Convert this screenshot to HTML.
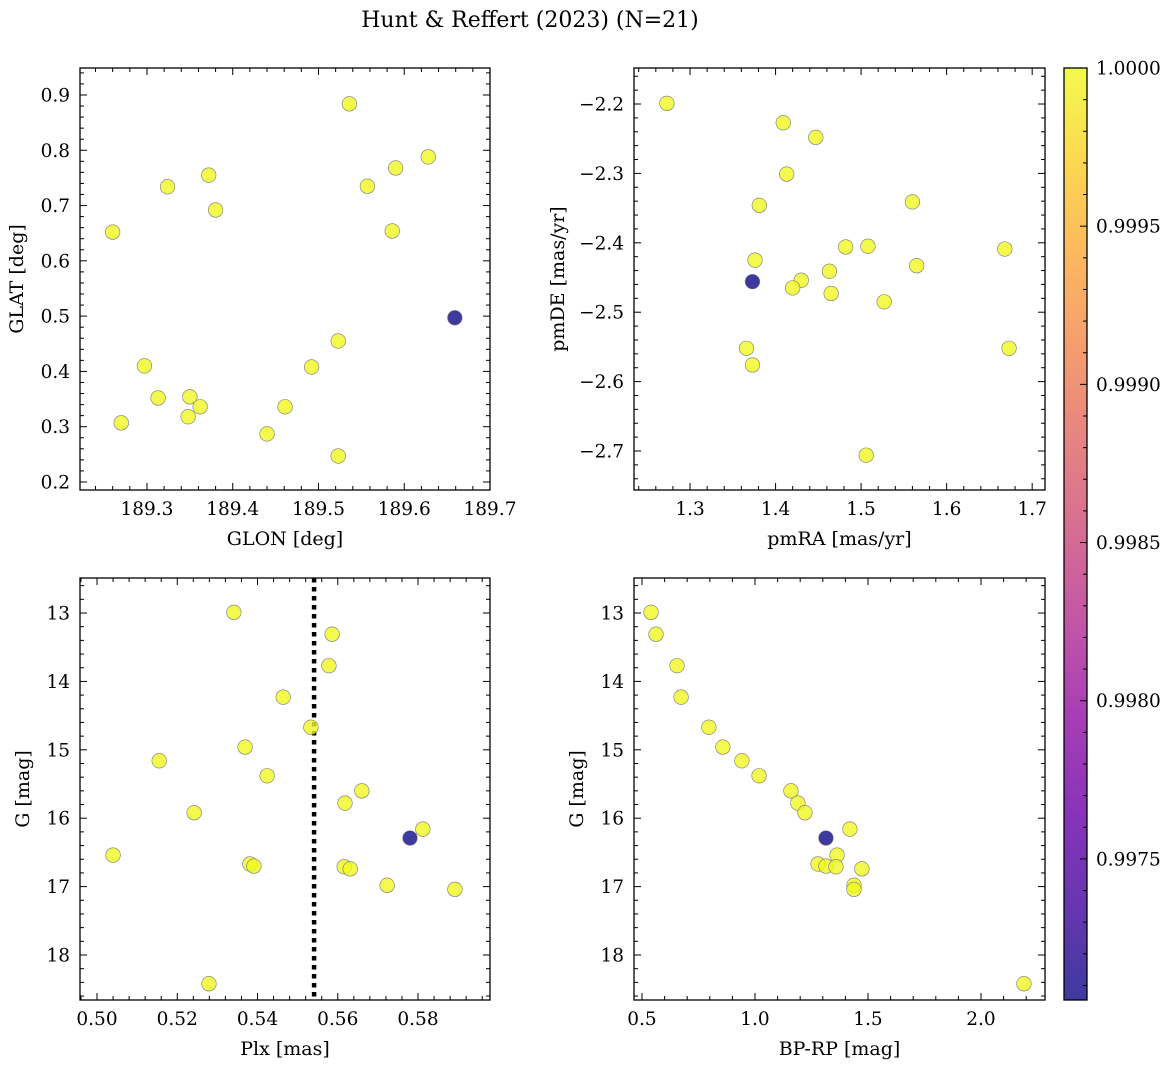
<!DOCTYPE html>
<html><head><meta charset="utf-8"><style>
body{margin:0;background:#fff}
svg text{font-family:"DejaVu Serif","Liberation Serif",serif;fill:#000}
</style></head><body>
<svg id="fig" width="1173" height="1068" xmlns="http://www.w3.org/2000/svg">
<defs>
<linearGradient id="plasma" x1="0" y1="1" x2="0" y2="0">
<stop offset="0" stop-color="#0d0887"/><stop offset="0.1" stop-color="#41049d"/><stop offset="0.2" stop-color="#6a00a8"/><stop offset="0.3" stop-color="#8f0da4"/><stop offset="0.4" stop-color="#b12a90"/><stop offset="0.5" stop-color="#cc4778"/><stop offset="0.6" stop-color="#e16462"/><stop offset="0.7" stop-color="#f2844b"/><stop offset="0.8" stop-color="#fca636"/><stop offset="0.9" stop-color="#fcce25"/><stop offset="1" stop-color="#f0f921"/>
</linearGradient>
</defs>
<text x="530" y="27" font-size="22" text-anchor="middle">Hunt &amp; Reffert (2023) (N=21)</text>
</svg>
<script>
const glon=[189.260,189.270,189.297,189.313,189.324,189.348,189.350,189.362,189.372,189.380,189.440,189.461,189.492,189.523,189.523,189.536,189.557,189.586,189.590,189.628,189.659];
const glat=[0.652,0.307,0.410,0.352,0.734,0.318,0.354,0.336,0.755,0.692,0.287,0.336,0.408,0.455,0.247,0.884,0.735,0.654,0.768,0.788,0.497];
const prob1=[1,1,1,1,1,1,1,1,1,1,1,1,1,1,1,1,1,1,1,1,0.99706];
const pmra=[1.273,1.409,1.447,1.413,1.381,1.560,1.508,1.482,1.668,1.565,1.376,1.373,1.463,1.430,1.420,1.465,1.527,1.366,1.373,1.673,1.506];
const pmde=[-2.199,-2.227,-2.248,-2.301,-2.346,-2.341,-2.405,-2.406,-2.409,-2.433,-2.425,-2.456,-2.441,-2.454,-2.465,-2.473,-2.485,-2.552,-2.576,-2.552,-2.706];
const prob2=[1,1,1,1,1,1,1,1,1,1,1,0.99706,1,1,1,1,1,1,1,1,1];
const plx=[0.5341,0.5586,0.5578,0.5464,0.5533,0.5369,0.5155,0.5424,0.5660,0.5618,0.5242,0.5812,0.5780,0.5040,0.5381,0.5391,0.5616,0.5631,0.5723,0.5892,0.5279];
const gmag=[12.99,13.31,13.77,14.23,14.67,14.96,15.16,15.38,15.60,15.78,15.92,16.16,16.29,16.54,16.67,16.70,16.71,16.74,16.98,17.04,18.42];
const prob3=[1,1,1,1,1,1,1,1,1,1,1,1,0.99706,1,1,1,1,1,1,1,1];
const bprp=[0.540,0.562,0.655,0.673,0.796,0.858,0.942,1.018,1.159,1.190,1.221,1.420,1.314,1.363,1.279,1.314,1.358,1.473,1.438,1.438,2.190];
const gmag4=[12.99,13.31,13.77,14.23,14.67,14.96,15.16,15.38,15.60,15.78,15.92,16.16,16.29,16.54,16.67,16.70,16.71,16.74,16.98,17.04,18.42];
const prob4=[1,1,1,1,1,1,1,1,1,1,1,1,0.99706,1,1,1,1,1,1,1,1];
const plxLine=0.5541;
const cbTicks=[0.9975,0.9980,0.9985,0.9990,0.9995,1.0000];

const NS="http://www.w3.org/2000/svg";
const fig=document.getElementById('fig');
function mk(t,a,p){const e=document.createElementNS(NS,t);for(const k in a)e.setAttribute(k,a[k]);(p||fig).appendChild(e);return e;}
const stops=[[0,[13,8,135]],[0.1,[65,4,157]],[0.2,[106,0,168]],[0.3,[143,13,164]],[0.4,[177,42,144]],[0.5,[204,71,120]],[0.6,[225,100,98]],[0.7,[242,132,75]],[0.8,[252,166,54]],[0.9,[252,206,37]],[1,[240,249,33]]];
const cmin=0.997054,cmax=1.0;
function cmap(v){let t=Math.max(0,Math.min(1,(v-cmin)/(cmax-cmin)));for(let i=1;i<stops.length;i++){if(t<=stops[i][0]){const a=stops[i-1],b=stops[i],f=(t-a[0])/(b[0]-a[0]);return 'rgb('+a[1].map((c,j)=>Math.round(c+(b[1][j]-c)*f)).join(',')+')';}}return 'rgb(240,249,33)';}
function fmt(v,d){return (v<0?'\u2212':'')+Math.abs(v).toFixed(d);}

function panel(o){
  const g=mk('g',{});
  
  
  const sx=v=>o.x0+(v-o.xr[0])/(o.xr[1]-o.xr[0])*(o.x1-o.x0);
  const sy=v=>o.y0+(v-o.yr[0])/(o.yr[1]-o.yr[0])*(o.y1-o.y0);
  const clip='c'+o.name;
  const cp=mk('clipPath',{id:clip},g);mk('rect',{x:o.x0,y:o.y0,width:o.x1-o.x0,height:o.y1-o.y0},cp);
  const pts=mk('g',{'clip-path':'url(#'+clip+')'},g);
  if(o.vline!==undefined){const l=mk('line',{x1:sx(o.vline),x2:sx(o.vline),y1:o.y0,y2:o.y1,stroke:'#000','stroke-width':4.5,'stroke-dasharray':'4.5,4.5'},pts);
    
    }
  const order=o.xs.map((_,i)=>i).sort((a,b)=>o.cs[b]-o.cs[a]);
  for(const i of order){const c=mk('circle',{cx:sx(o.xs[i]),cy:sy(o.ys[i]),r:7.3,fill:cmap(o.cs[i]),'fill-opacity':0.8,stroke:'#777','stroke-width':0.6},pts);
    
    }
  mk('rect',{x:o.x0,y:o.y0,width:o.x1-o.x0,height:o.y1-o.y0,fill:'none',stroke:'#000','stroke-width':1.3},g);
  let st=Math.ceil(Math.min(o.xr[0],o.xr[1])/o.xmin-1e-6);
  for(let k=st;k*o.xmin<=Math.max(o.xr[0],o.xr[1])+1e-9;k++){const v=k*o.xmin;const X=sx(v);const maj=Math.abs(v/o.xmaj-Math.round(v/o.xmaj))<1e-6;const L=maj?7:4;
    mk('line',{x1:X,x2:X,y1:o.y1,y2:o.y1-L,stroke:'#000','stroke-width':1},g);mk('line',{x1:X,x2:X,y1:o.y0,y2:o.y0+L,stroke:'#000','stroke-width':1},g);
    if(maj){const t=mk('text',{x:X,y:o.y1+25,'font-size':18.5,'text-anchor':'middle'},g);t.textContent=fmt(v,o.xd);
      
      }}
  const lo=Math.min(o.yr[0],o.yr[1]),hi=Math.max(o.yr[0],o.yr[1]);
  st=Math.ceil(lo/o.ymin-1e-6);
  for(let k=st;k*o.ymin<=hi+1e-9;k++){const v=k*o.ymin;const Y=sy(v);const maj=Math.abs(v/o.ymaj-Math.round(v/o.ymaj))<1e-6;const L=maj?7:4;
    mk('line',{x1:o.x0,x2:o.x0+L,y1:Y,y2:Y,stroke:'#000','stroke-width':1},g);mk('line',{x1:o.x1,x2:o.x1-L,y1:Y,y2:Y,stroke:'#000','stroke-width':1},g);
    if(maj){const t=mk('text',{x:o.x0-10,y:Y+6.5,'font-size':18.5,'text-anchor':'end'},g);t.textContent=fmt(v,o.yd);
      
      }}
  const xl=mk('text',{x:(o.x0+o.x1)/2,y:o.y1+55,'font-size':19,'text-anchor':'middle'},g);xl.textContent=o.xlab;
  
  
  const yl=mk('text',{x:o.ylx,y:(o.y0+o.y1)/2,'font-size':19,'text-anchor':'middle',transform:'rotate(-90 '+o.ylx+' '+(o.y0+o.y1)/2+')'},g);yl.textContent=o.ylab;
  
  
}
panel({name:'glon-glat-panel',x0:80,x1:490,y0:68,y1:490,xr:[189.2219,189.7],yr:[0.9488,0.1855],xmaj:0.1,xmin:0.02,ymaj:0.1,ymin:0.02,xd:1,yd:1,xs:glon,ys:glat,cs:prob1,xlab:'GLON [deg]',ylab:'GLAT [deg]',ylx:23});
panel({name:'pm-panel',x0:634,x1:1045,y0:68,y1:490,xr:[1.2345,1.715],yr:[-2.1481,-2.7562],xmaj:0.1,xmin:0.02,ymaj:0.1,ymin:0.02,xd:1,yd:1,xs:pmra,ys:pmde,cs:prob2,xlab:'pmRA [mas/yr]',ylab:'pmDE [mas/yr]',ylx:564});
panel({name:'plx-g-panel',x0:80,x1:490,y0:578,y1:1000,xr:[0.49576,0.59794],yr:[12.488,18.658],xmaj:0.02,xmin:0.004,ymaj:1,ymin:0.2,xd:2,yd:0,xs:plx,ys:gmag,cs:prob3,xlab:'Plx [mas]',ylab:'G [mag]',ylx:29,vline:plxLine});
panel({name:'cmd-panel',x0:634,x1:1045,y0:578,y1:1000,xr:[0.4646,2.2832],yr:[12.488,18.658],xmaj:0.5,xmin:0.1,ymaj:1,ymin:0.2,xd:1,yd:0,xs:bprp,ys:gmag4,cs:prob4,xlab:'BP-RP [mag]',ylab:'G [mag]',ylx:583});
const cb=mk('g',{});


const cx0=1064,cx1=1087,cy0=68,cy1=1000;
mk('rect',{x:cx0,y:cy0,width:cx1-cx0,height:cy1-cy0,fill:'url(#plasma)','fill-opacity':0.8},cb);
mk('rect',{x:cx0,y:cy0,width:cx1-cx0,height:cy1-cy0,fill:'none',stroke:'#000','stroke-width':1.3},cb);
const cby=v=>cy1-(v-cmin)/(cmax-cmin)*(cy1-cy0);
for(let k=Math.ceil(cmin/0.0001);k<=10000;k++){const v=k*0.0001;const Y=cby(v);const maj=k%5===0;
  mk('line',{x1:cx1,x2:cx1-(maj?7:4),y1:Y,y2:Y,stroke:'#000','stroke-width':1},cb);}
for(const v of cbTicks){const t=mk('text',{x:cx1+9,y:cby(v)+6.5,'font-size':18.5},cb);t.textContent=v.toFixed(4);
  
  }
</script>
</body></html>
